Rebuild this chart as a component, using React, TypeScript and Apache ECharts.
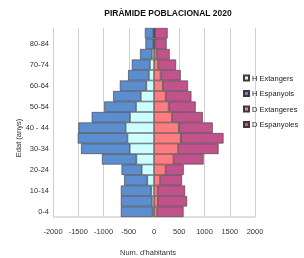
import React, { useEffect, useRef } from 'react';
import * as echarts from 'echarts';

const categories = ['0-4', '5-9', '10-14', '15-19', '20-24', '25-29', '30-34', '35-39', '40 - 44', '45-49', '50-54', '55-59', '60-64', '65-69', '70-74', '75-79', '80-84', '85+'];
const hExtangers = [-26, -40, -52, -131, -242, -347, -479, -524, -560, -475, -355, -260, -150, -100, -80, -40, -10, -10];
const hEspanyols = [-630, -616, -604, -460, -401, -683, -965, -985, -937, -758, -630, -548, -526, -412, -359, -236, -159, -170];
const dExtangeres = [60, 75, 70, 120, 228, 385, 476, 529, 490, 355, 290, 230, 175, 130, 80, 50, 25, 15];
const dEspanyoles = [525, 580, 545, 435, 360, 597, 802, 847, 673, 611, 535, 510, 498, 399, 357, 260, 225, 255];
const xMin = -2000;
const xMax = 2000;
const xInterval = 500;
const seriesNames = ['H Extangers', 'H Espanyols', 'D Extangeres', 'D Espanyoles'];
const seriesColors = ['#CCFFFF', '#5B8DCF', '#FF7C80', '#C2528C'];

const FONT = '"Liberation Sans", Arial, sans-serif';

export default function App() {
  const ref = useRef<HTMLDivElement>(null);
  useEffect(() => {
    if (!ref.current) return;
    const chart = echarts.init(ref.current, undefined, { renderer: 'svg' });
    const datasets = [hExtangers, hEspanyols, dExtangeres, dEspanyoles];
    chart.setOption({
      animation: false,
      textStyle: { fontFamily: FONT },
      grid: { left: 53, right: 49, top: 28, bottom: 41 },
      legend: {
        orient: 'vertical',
        left: 238,
        top: 68,
        itemWidth: 5,
        itemHeight: 5,
        itemGap: 5.5,
        icon: 'rect',
        textStyle: { fontSize: 7.5, color: '#222', fontFamily: FONT, padding: [0, 0, 0, -2], lineHeight: 10 },
        data: seriesNames,
      },
      xAxis: {
        type: 'value',
        min: xMin,
        max: xMax,
        interval: xInterval,
        axisLine: { show: false },
        axisTick: { show: false },
        axisLabel: { fontSize: 7.5, color: '#333', margin: 10, formatter: (v: number) => String(v) },
        splitLine: { show: true, lineStyle: { color: '#D0D0D0', width: 1 } },
      },
      yAxis: {
        type: 'category',
        data: categories,
        axisLine: { show: true, lineStyle: { color: '#BFBFBF' } },
        axisTick: { show: false },
        axisLabel: { interval: 1, fontSize: 7.5, color: '#333', margin: 4 },
      },
      graphic: [
        { type: 'text', x: 168, y: 13, style: { text: 'PIRÀMIDE POBLACIONAL 2020', fill: '#111', font: `bold 8.5px ${FONT}`, textAlign: 'center', textVerticalAlign: 'middle' } },
        { type: 'text', x: 148, y: 252, style: { text: "Num. d'habitants", fill: '#333', font: `7.5px ${FONT}`, textAlign: 'center', textVerticalAlign: 'middle' } },
        { type: 'text', x: 18, y: 138, rotation: Math.PI / 2, style: { text: 'Edat (anys)', fill: '#333', font: `7.5px ${FONT}`, textAlign: 'center', textVerticalAlign: 'middle' } },
        { type: 'line', shape: { x1: 53, y1: 217, x2: 255, y2: 217 }, style: { stroke: '#BFBFBF', lineWidth: 1 } },
      ],
      series: seriesNames.map((name, i) => ({
        name,
        type: 'bar',
        stack: 'pyr',
        barCategoryGap: '0%',
        data: datasets[i],
        itemStyle: { color: seriesColors[i], borderColor: '#3A3A3A', borderWidth: 0.6 },
      })),
    });
    return () => chart.dispose();
  }, []);
  return <div ref={ref} style={{ position: 'fixed', left: 0, top: 0, width: 304, height: 258 }} />;
}
